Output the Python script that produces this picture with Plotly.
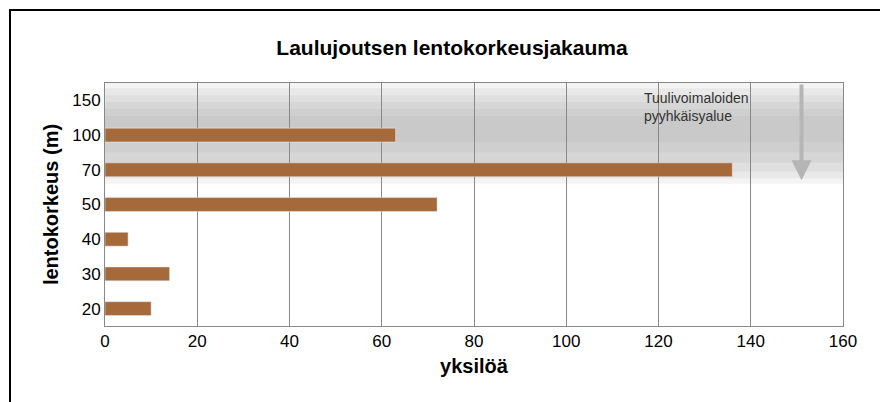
import plotly.graph_objects as go

categories = ["20", "30", "40", "50", "70", "100", "150"]
values = [10, 14, 5, 72, 136, 63, 0]
x_ticks = [0, 20, 40, 60, 80, 100, 120, 140, 160]

fig = go.Figure(go.Bar(y=categories, x=values, orientation="h",
                       marker_color="#A5693A", width=0.4))

shapes = []
layers = [(3.6, 6.5, 0.07), (3.75, 6.35, 0.07), (3.95, 6.15, 0.07), (4.2, 5.95, 0.07), (4.5, 5.75, 0.06), (4.8, 5.55, 0.05)]
for y0, y1, op in layers:
    shapes.append(dict(type="rect", xref="paper", x0=0, x1=1, y0=y0, y1=y1,
                       fillcolor="#666666", opacity=op, line_width=0, layer="below"))
W, H = 738, 243
shapes.append(dict(type="rect", xref="paper", yref="paper",
                   x0=-95/W, x1=1 + 50/W, y0=-82/H, y1=1 + 73/H,
                   line=dict(color="black", width=2)))
fig.update_layout(
    width=888, height=402, margin=dict(l=97, r=53, t=75, b=84, autoexpand=False),
    paper_bgcolor="white", plot_bgcolor="white",
    title=dict(text="<b>Laulujoutsen lentokorkeusjakauma</b>", x=0.5, y=0.92,
               font=dict(family="Liberation Sans", size=21, color="black")),
    font=dict(family="Liberation Sans", size=17, color="black"),
    xaxis=dict(range=[0, 160], tickvals=x_ticks, showgrid=True, gridcolor="#888888",
               title=dict(text="<b>yksilöä</b>", standoff=8), zeroline=False, automargin=False,
               showline=True, linecolor="#888888", mirror=True),
    yaxis=dict(categoryorder="array", categoryarray=categories, range=[-0.5, 6.5], automargin=False,
               title=dict(text="<b>lentokorkeus (m)</b>", standoff=8),
               showline=True, linecolor="#888888", mirror=True, ticks=""),
    shapes=shapes, showlegend=False, bargap=0.6,
    annotations=[
        dict(x=151, y=3.7, ax=151, ay=6.5, xref="x", yref="y", axref="x", ayref="y",
             showarrow=True, arrowhead=2, arrowsize=1, arrowwidth=4, arrowcolor="#B5B5B5", text=""),
        dict(x=116.5, y=5.8, xref="x", yref="y", xanchor="left", align="left", showarrow=False,
             text="Tuulivoimaloiden<br>pyyhkäisyalue", font=dict(size=14, color="#333333")),
    ],
)
fig.write_html("out.html")
